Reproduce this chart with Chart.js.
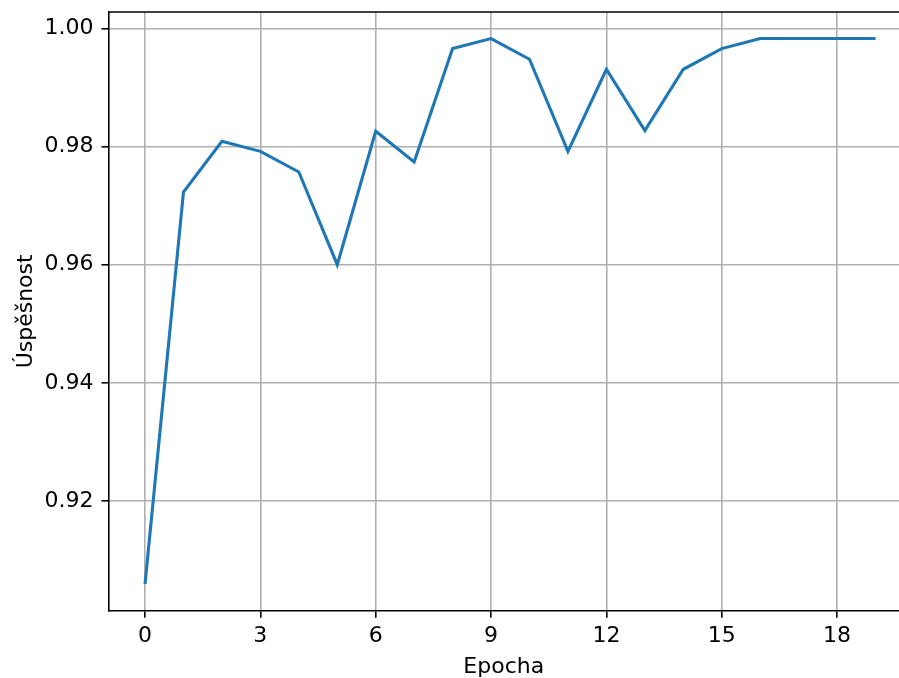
<!DOCTYPE html>
<html>
<head>
<meta charset="utf-8">
<script src="https://cdn.jsdelivr.net/npm/chart.js@4"></script>
<style>
  html, body { margin: 0; padding: 0; overflow: hidden; background: #fff; }
</style>
</head>
<body>
<canvas id="accChart" width="899" height="678"></canvas>
<script>
// data
const epochs = [0, 1, 2, 3, 4, 5, 6, 7, 8, 9, 10, 11, 12, 13, 14, 15, 16, 17, 18, 19];
const accuracy = [0.9059, 0.9723, 0.9809, 0.9792, 0.9757, 0.9600, 0.9826, 0.9774, 0.9966, 0.9983,
                  0.9948, 0.9792, 0.9931, 0.9827, 0.9931, 0.9966, 0.9983, 0.9983, 0.9983, 0.9983];
const xTicks = [0, 3, 6, 9, 12, 15, 18];
const yTicks = [0.92, 0.94, 0.96, 0.98, 1.00];

const font = { family: 'DejaVu Sans', size: 22 };
const titleFont = { family: 'DejaVu Sans', size: 22, lineHeight: 1 };

// top spine like matplotlib (right one is cut off in the reference)
const framePlugin = {
    id: 'frame',
    afterDraw(chart) {
        const { ctx, chartArea } = chart;
        ctx.save();
        ctx.strokeStyle = '#000';
        ctx.lineWidth = 1.6;
        ctx.beginPath();
        ctx.moveTo(chartArea.left, chartArea.top);
        ctx.lineTo(chartArea.right, chartArea.top);
        ctx.stroke();
        ctx.restore();
    }
};

const ctx = document.getElementById('accChart').getContext('2d');
new Chart(ctx, {
    type: 'line',
    data: {
        datasets: [{
            data: epochs.map((e, i) => ({ x: e, y: accuracy[i] })),
            borderColor: '#1f77b4',
            borderWidth: 3.1,
            pointRadius: 0,
            tension: 0,
            fill: false
        }]
    },
    options: {
        responsive: false,
        animation: false,
        layout: { padding: { top: 12, right: 0, left: 0, bottom: 0 } },
        plugins: { legend: { display: false }, tooltip: { enabled: false } },
        scales: {
            x: {
                type: 'linear',
                min: -0.95,
                max: 19.61,
                afterBuildTicks: s => { s.ticks = xTicks.map(v => ({ value: v })); },
                afterFit: s => { s.height = 67.3; s.paddingLeft = 0; s.paddingRight = 0; },
                ticks: { color: '#000', font: font, padding: 5, maxRotation: 0 },
                grid: { color: '#b0b0b0', lineWidth: 1.6, tickColor: '#000', tickLength: 7 },
                border: { color: '#000', width: 1.6 },
                title: { display: true, text: 'Epocha', color: '#000', font: titleFont, padding: { top: 0, bottom: 0 } }
            },
            y: {
                min: 0.9014,
                max: 1.0028,
                afterBuildTicks: s => { s.ticks = yTicks.map(v => ({ value: v })); },
                afterFit: s => { s.width = 108.5; s.paddingTop = 0; s.paddingBottom = 0; },
                ticks: { color: '#000', font: font, padding: 8, callback: v => v.toFixed(2) },
                grid: { color: '#b0b0b0', lineWidth: 1.6, tickColor: '#000', tickLength: 7 },
                border: { color: '#000', width: 1.6 },
                title: { display: true, text: 'Úspěšnost', color: '#000', font: titleFont, padding: { top: 15, bottom: 0 } }
            }
        }
    },
    plugins: [framePlugin]
});
</script>
</body>
</html>
